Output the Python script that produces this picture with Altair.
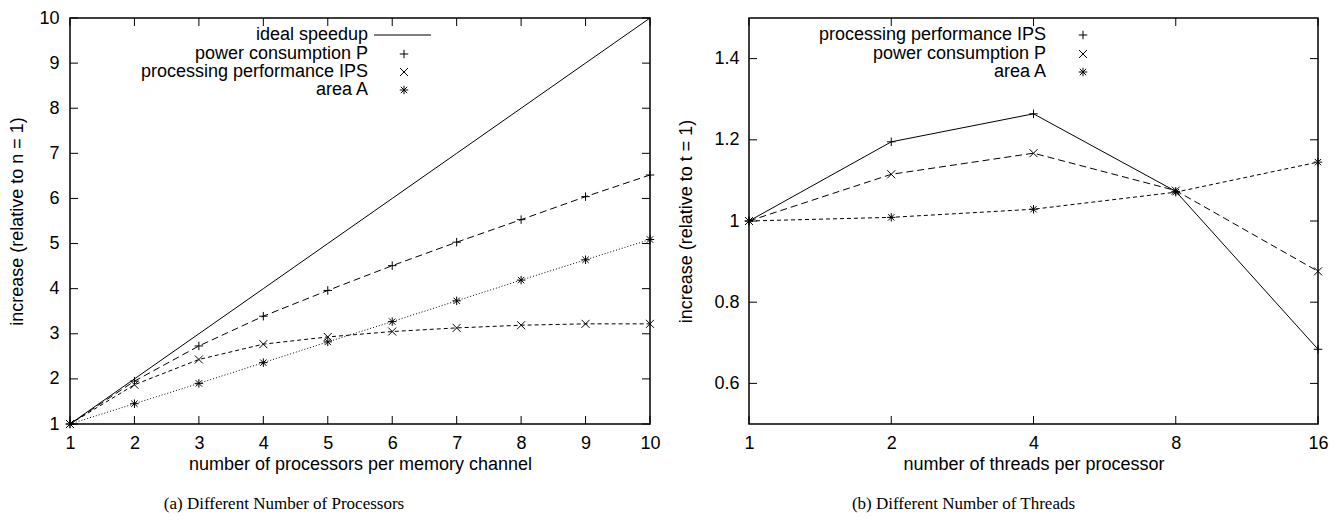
import altair as alt
import pandas as pd

# ---------------- data: panel (a) ----------------
n_proc = [1, 2, 3, 4, 5, 6, 7, 8, 9, 10]
ideal_a = [1, 2, 3, 4, 5, 6, 7, 8, 9, 10]
power_a = [1.00, 1.95, 2.73, 3.39, 3.96, 4.51, 5.03, 5.53, 6.04, 6.52]
ips_a = [1.00, 1.87, 2.43, 2.77, 2.93, 3.05, 3.13, 3.19, 3.22, 3.22]
area_a = [1.00, 1.45, 1.90, 2.36, 2.82, 3.27, 3.73, 4.19, 4.64, 5.09]
yticks_a = [1, 2, 3, 4, 5, 6, 7, 8, 9, 10]

# ---------------- data: panel (b) ----------------
threads = [1, 2, 4, 8, 16]
ips_b = [1.00, 1.195, 1.264, 1.073, 0.684]
power_b = [1.00, 1.115, 1.167, 1.075, 0.876]
area_b = [1.00, 1.009, 1.029, 1.071, 1.145]
yticks_b = [0.6, 0.8, 1.0, 1.2, 1.4]

legend_a = ["ideal speedup", "power consumption P", "processing performance IPS", "area A"]
legend_b = ["processing performance IPS", "power consumption P", "area A"]
captions = ["(a) Different Number of Processors", "(b) Different Number of Threads"]

SANS = "Liberation Sans"
SERIF = "Liberation Serif"
FS = 18

PLUS = "M-1,0L1,0M0,-1L0,1"
CROSS = "M-1,-1L1,1M-1,1L1,-1"
STAR = "M-1,0L1,0M0,-1L0,1M-0.75,-0.75L0.75,0.75M-0.75,0.75L0.75,-0.75"

one = pd.DataFrame({"k": [0]})


def series_layers(df, xcol, ycol, xsc, ysc, xax, yax, dash, shape, size):
    enc = dict(
        x=alt.X(f"{xcol}:Q", scale=xsc, axis=xax),
        y=alt.Y(f"{ycol}:Q", scale=ysc, axis=yax),
    )
    line_kw = dict(color="black", strokeWidth=1)
    if dash:
        line_kw["strokeDash"] = dash
    layers = [alt.Chart(df).mark_line(**line_kw).encode(**enc)]
    if shape:
        layers.append(
            alt.Chart(df).mark_point(shape=shape, size=size, filled=False, color="black",
                                     strokeWidth=1, opacity=1).encode(**enc)
        )
    return layers


def tick_layers(xt, yt, xsc, ysc, xax, yax, W, H, L=8):
    dx = pd.DataFrame({"v": xt})
    dy = pd.DataFrame({"v": yt})
    r = dict(color="black", strokeWidth=1)
    xe = alt.X("v:Q", scale=xsc, axis=xax)
    ye = alt.Y("v:Q", scale=ysc, axis=yax)
    return [
        alt.Chart(dy).mark_rule(**r).encode(y=ye, x=alt.value(0), x2=alt.value(L)),
        alt.Chart(dy).mark_rule(**r).encode(y=ye, x=alt.value(W - L), x2=alt.value(W)),
        alt.Chart(dx).mark_rule(**r).encode(x=xe, y=alt.value(H - L), y2=alt.value(H)),
        alt.Chart(dx).mark_rule(**r).encode(x=xe, y=alt.value(0), y2=alt.value(L)),
    ]


def legend_text(label, x, y):
    return alt.Chart(pd.DataFrame({"t": [label]})).mark_text(
        align="right", baseline="middle", font=SANS, fontSize=FS, color="black"
    ).encode(text="t:N", x=alt.value(x), y=alt.value(y))


def legend_sym(shape, size, x, y):
    return alt.Chart(one).mark_point(shape=shape, size=size, filled=False, color="black",
                                     strokeWidth=1, opacity=1).encode(x=alt.value(x), y=alt.value(y))


# ---------------- panel (a) ----------------
WA, HA = 580, 406
xsa = alt.Scale(domain=[1, 10], nice=False, zero=False)
ysa = alt.Scale(domain=[1, 10], nice=False, zero=False)
xaxa = alt.Axis(values=n_proc, ticks=False, domain=False, grid=False,
                labelFontSize=FS, labelPadding=10, labelFlush=False,
                title="number of processors per memory channel", titleFontSize=FS, titlePadding=3)
yaxa = alt.Axis(values=yticks_a, ticks=False, domain=False, grid=False,
                labelFontSize=FS, labelPadding=11, labelFlush=False,
                title="increase (relative to n = 1)", titleFontSize=FS, titlePadding=12)
dfa = pd.DataFrame({"n": n_proc, "ideal": ideal_a, "power": power_a, "ips": ips_a, "area": area_a})

layers_a = []
layers_a += series_layers(dfa, "n", "ideal", xsa, ysa, xaxa, yaxa, None, None, 0)
layers_a += series_layers(dfa, "n", "power", xsa, ysa, xaxa, yaxa, [7, 4], PLUS, 72)
layers_a += series_layers(dfa, "n", "ips", xsa, ysa, xaxa, yaxa, [4, 3], CROSS, 64)
layers_a += series_layers(dfa, "n", "area", xsa, ysa, xaxa, yaxa, [1, 2], STAR, 72)
layers_a += tick_layers(n_proc, yticks_a, xsa, ysa, xaxa, yaxa, WA, HA)
ly_a = [17, 36, 54, 72]
for lab, yy in zip(legend_a, ly_a):
    layers_a.append(legend_text(lab, 298, yy))
layers_a.append(alt.Chart(one).mark_rule(color="black", strokeWidth=1).encode(
    x=alt.value(304), x2=alt.value(361), y=alt.value(ly_a[0])))
layers_a.append(legend_sym(PLUS, 72, 334, ly_a[1]))
layers_a.append(legend_sym(CROSS, 64, 334, ly_a[2]))
layers_a.append(legend_sym(STAR, 72, 334, ly_a[3]))

chart_a = alt.layer(*layers_a).properties(
    width=WA, height=HA,
    title=alt.TitleParams(captions[0], orient="bottom", font=SERIF, fontSize=17, fontWeight="normal",
                          anchor="middle", dx=-76, offset=23, color="black"),
)

# ---------------- panel (b) ----------------
WB, HB = 569, 406
xsb = alt.Scale(type="log", base=2, domain=[1, 16], nice=False)
ysb = alt.Scale(domain=[0.5, 1.5], nice=False, zero=False)
xaxb = alt.Axis(values=threads, format="d", ticks=False, domain=False, grid=False,
                labelFontSize=FS, labelPadding=10, labelFlush=False,
                title="number of threads per processor", titleFontSize=FS, titlePadding=3)
yaxb = alt.Axis(values=yticks_b, format=".1~f", ticks=False, domain=False, grid=False,
                labelFontSize=FS, labelPadding=10, labelFlush=False,
                title="increase (relative to t = 1)", titleFontSize=FS, titlePadding=18)
dfb = pd.DataFrame({"t": threads, "ips": ips_b, "power": power_b, "area": area_b})

layers_b = []
layers_b += series_layers(dfb, "t", "ips", xsb, ysb, xaxb, yaxb, None, PLUS, 72)
layers_b += series_layers(dfb, "t", "power", xsb, ysb, xaxb, yaxb, [7, 4], CROSS, 64)
layers_b += series_layers(dfb, "t", "area", xsb, ysb, xaxb, yaxb, [4, 3], STAR, 72)
layers_b += tick_layers(threads, yticks_b, xsb, ysb, xaxb, yaxb, WB, HB)
ly_b = [17, 36, 54]
for lab, yy in zip(legend_b, ly_b):
    layers_b.append(legend_text(lab, 297, yy))
layers_b.append(legend_sym(PLUS, 72, 334, ly_b[0]))
layers_b.append(legend_sym(CROSS, 64, 334, ly_b[1]))
layers_b.append(legend_sym(STAR, 72, 334, ly_b[2]))

chart_b = alt.layer(*layers_b).properties(
    width=WB, height=HB,
    title=alt.TitleParams(captions[1], orient="bottom", font=SERIF, fontSize=17, fontWeight="normal",
                          anchor="middle", dx=-70, offset=23, color="black"),
)

chart = alt.hconcat(chart_a, chart_b, spacing=16).properties(
    padding=0, background="white"
).configure_view(
    stroke="black", strokeWidth=1.5
).configure_axis(
    labelFont=SANS, titleFont=SANS, labelColor="black", titleColor="black", titleFontWeight="normal"
)

chart.save("out.html", embed_options={"renderer": "svg", "actions": False})
